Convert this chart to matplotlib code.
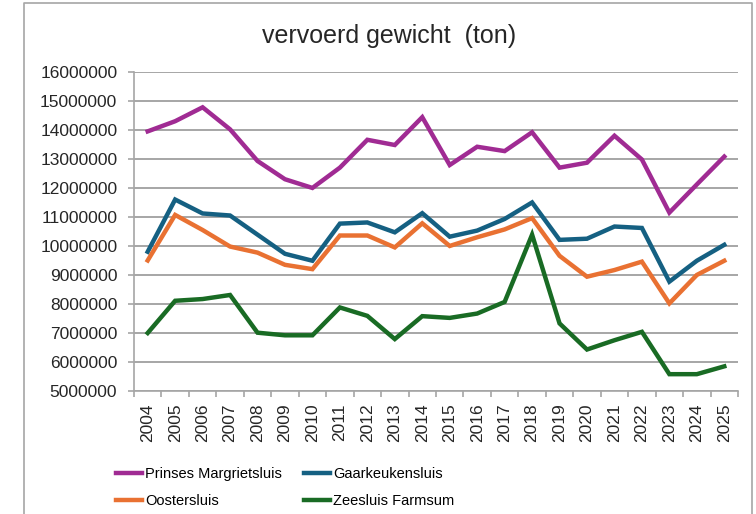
import matplotlib.pyplot as plt
from matplotlib.lines import Line2D
from matplotlib.ticker import FuncFormatter

plt.rcParams['font.family'] = ['Liberation Sans', 'DejaVu Sans']

years = [str(y) for y in range(2004, 2026)]

prinses = [13.95, 14.3, 14.78, 14.02, 12.93, 12.3, 12.0, 12.7, 13.66, 13.48, 14.44,
           12.79, 13.42, 13.27, 13.92, 12.7, 12.87, 13.8, 12.98, 11.15, 12.12, 13.08]
gaarkeuken = [9.8, 11.6, 11.12, 11.05, 10.39, 9.73, 9.49, 10.77, 10.81, 10.47, 11.13,
              10.32, 10.53, 10.93, 11.5, 10.21, 10.25, 10.67, 10.62, 8.77, 9.49, 10.04]
ooster = [9.5, 11.07, 10.55, 9.98, 9.77, 9.35, 9.2, 10.36, 10.36, 9.95, 10.78,
          10.0, 10.3, 10.57, 10.96, 9.66, 8.94, 9.17, 9.46, 8.02, 9.0, 9.49]
zeesluis = [7.0, 8.11, 8.17, 8.31, 7.01, 6.92, 6.92, 7.88, 7.59, 6.79, 7.58,
            7.52, 7.67, 8.07, 10.39, 7.33, 6.43, 6.75, 7.04, 5.58, 5.58, 5.85]

names = ['Prinses Margrietsluis', 'Gaarkeukensluis', 'Oostersluis', 'Zeesluis Farmsum']
colors = ['#A02B93', '#156082', '#E97132', '#196B24']
series = [prinses, gaarkeuken, ooster, zeesluis]

fig = plt.figure(figsize=(7.56, 5.14), dpi=100)
ax = fig.add_axes([0.1772, 0.2393, 0.799, 0.6208])

x = list(range(len(years)))
for vals, c, n in zip(series, colors, names):
    ax.plot(x, [v * 1e6 for v in vals], color=c, lw=3.2, label=n,
            solid_joinstyle='miter', zorder=3)

ax.set_xlim(-0.5, len(years) - 0.5)
ax.set_ylim(5e6, 16e6)
ax.set_yticks([i * 1e6 for i in range(5, 17)])
ax.yaxis.set_major_formatter(FuncFormatter(lambda v, p: '%d' % v))
ax.grid(True, axis='y', color='#A6A6A6', lw=1.4, zorder=1)

ax.set_xticks(x)
ax.set_xticklabels(years, rotation=90)
ax.set_xticks([i - 0.5 for i in range(len(years) + 1)], minor=True)
ax.tick_params(axis='x', which='major', length=0, pad=9, labelsize=12.5, colors='#262626')
ax.tick_params(axis='x', which='minor', length=4, color='#A6A6A6', width=1.2)
ax.tick_params(axis='y', length=4, color='#A6A6A6', width=1.2, labelsize=12.5,
               labelcolor='#262626', pad=8)

for s in ['top', 'right']:
    ax.spines[s].set_visible(False)
for s in ['left', 'bottom']:
    ax.spines[s].set_color('#A6A6A6')
    ax.spines[s].set_linewidth(1.2)

fig.text(0.514, 0.929, 'vervoerd gewicht  (ton)', ha='center', va='center',
         fontsize=18, color='#262626')

# matplotlib fills legend columns first, so reorder to get rows as in the chart
order = [0, 2, 1, 3]
handles = [Line2D([0], [0], color=colors[i], lw=3.2) for i in order]
labels = [names[i] for i in order]
fig.legend(handles, labels, loc='center', bbox_to_anchor=(0.377, 0.052), ncol=2,
           frameon=False, fontsize=10.5, handlelength=1.8, handletextpad=0.2,
           columnspacing=1.5, labelspacing=0.9)

# grey chart frame (bottom edge is cut off in the reference)
fx = [24 / 756, 24 / 756, 752 / 756, 752 / 756]
fy = [-0.1, 1 - 3 / 514, 1 - 3 / 514, -0.1]
fig.add_artist(Line2D(fx, fy, transform=fig.transFigure, color='#A6A6A6', lw=1.2))

fig.savefig('out.png', dpi=100)
